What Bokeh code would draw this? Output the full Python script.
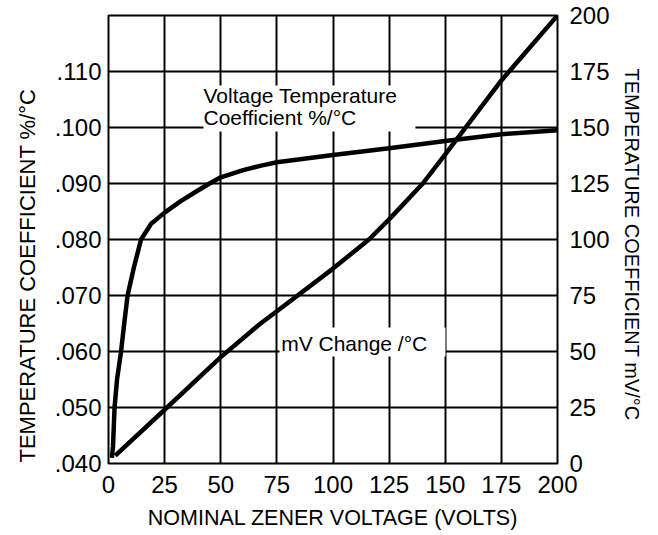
from bokeh.plotting import figure
from bokeh.models import Range1d, LinearAxis, FixedTicker, Label, BoxAnnotation, Title
from bokeh.embed import file_html
from bokeh.resources import INLINE

# ---- data ----
x_ticks = [0, 25, 50, 75, 100, 125, 150, 175, 200]
left_ticks = [0.04, 0.05, 0.06, 0.07, 0.08, 0.09, 0.10, 0.11]
left_tick_labels = [".040", ".050", ".060", ".070", ".080", ".090", ".100", ".110"]
right_ticks = [0, 25, 50, 75, 100, 125, 150, 175, 200]

# Voltage temperature coefficient (%/°C), left axis
vtc_volts = [1.5, 2.0, 2.7, 3.8, 5.6, 7.0, 8.5, 11.3, 14.5, 19, 25, 32, 40, 45, 50,
             60, 68, 75, 100, 125, 150, 175, 200]
vtc_pct = [0.0410, 0.0430, 0.0500, 0.0550, 0.0600, 0.0650, 0.0700, 0.0750, 0.0800,
           0.0828, 0.0848, 0.0868, 0.0888, 0.0900, 0.0911, 0.0924, 0.0932,
           0.0938, 0.0951, 0.0963, 0.0976, 0.0988, 0.0995]

# mV change /°C, right axis
mv_volts = [3.0, 25, 50, 67.7, 75, 100, 116, 125, 140, 150, 175, 200]
mv_vals = [3.5, 24, 47.5, 62.5, 68, 87, 100, 109, 125, 138, 171, 200]

FONT = "Liberation Sans"

p = figure(frame_width=449, frame_height=448,
           x_range=Range1d(0, 200), y_range=Range1d(0.04, 0.12),
           output_backend="svg", toolbar_location=None,
           min_border_left=108, min_border_right=96,
           min_border_top=15, min_border_bottom=72,
           background_fill_color="white", border_fill_color="white")
p.outline_line_color = "black"
p.outline_line_width = 2
p.outline_line_alpha = 1

p.extra_y_ranges = {"mv": Range1d(0, 200)}

def style_axis(ax, standoff):
    ax.major_tick_in = 0
    ax.major_tick_out = 0
    ax.minor_tick_in = 0
    ax.minor_tick_out = 0
    ax.axis_line_color = None
    ax.major_label_text_font = FONT
    ax.major_label_text_font_size = "24px"
    ax.major_label_text_color = "black"
    ax.major_label_standoff = standoff
    ax.axis_label_text_font = FONT
    ax.axis_label_text_font_style = "normal"
    ax.axis_label_text_color = "black"

xa = p.xaxis[0]
xa.ticker = FixedTicker(ticks=x_ticks)
style_axis(xa, 12)
xa.axis_label = "NOMINAL ZENER VOLTAGE (VOLTS)"
xa.axis_label_text_font_size = "21.5px"
xa.axis_label_standoff = 10

ya = p.yaxis[0]
ya.ticker = FixedTicker(ticks=left_ticks)
style_axis(ya, 7)
ya.major_label_overrides = dict(zip(left_ticks, left_tick_labels))

ra = LinearAxis(y_range_name="mv", ticker=FixedTicker(ticks=right_ticks))
style_axis(ra, 12)
p.add_layout(ra, "right")

right_title = Title(text="TEMPERATURE COEFFICIENT mV/°C", align="left", offset=53,
                    text_font=FONT, text_font_size="20px", text_font_style="normal",
                    text_color="black", standoff=17)
p.add_layout(right_title, "right")

left_title = Title(text="TEMPERATURE COEFFICIENT %/°C", align="left", offset=1,
                   text_font=FONT, text_font_size="22px", text_font_style="normal",
                   text_color="black", standoff=24)
p.add_layout(left_title, "left")

for g in (p.xgrid[0], p.ygrid[0]):
    g.grid_line_color = "black"
    g.grid_line_width = 2
    g.grid_line_alpha = 1

p.line(vtc_volts, vtc_pct, line_color="black", line_width=4.5, line_join="round")
p.line(mv_volts, mv_vals, y_range_name="mv", line_color="black", line_width=4.5,
       line_join="round")

# white backgrounds for inline labels
p.add_layout(BoxAnnotation(left=42.3, right=136.7, bottom=0.0993, top=0.1075,
                           fill_color="white", fill_alpha=1, line_color=None))
p.add_layout(BoxAnnotation(left=76.2, right=150.1, bottom=0.0591, top=0.0643,
                           fill_color="white", fill_alpha=1, line_color=None))

def lab(x, y, text, size="21px", **kw):
    l = Label(x=x, y=y, text=text, text_font=FONT, text_font_size=size,
              text_color="black", **kw)
    p.add_layout(l)
    return l

lab(42.3, 0.10563, "Voltage Temperature", text_baseline="alphabetic")
lab(42.3, 0.10179, "Coefficient %/°C", text_baseline="alphabetic")
lab(76.9, 0.06143, "mV Change /°C", text_baseline="alphabetic")

open("out.html", "w").write(file_html(p, INLINE))
